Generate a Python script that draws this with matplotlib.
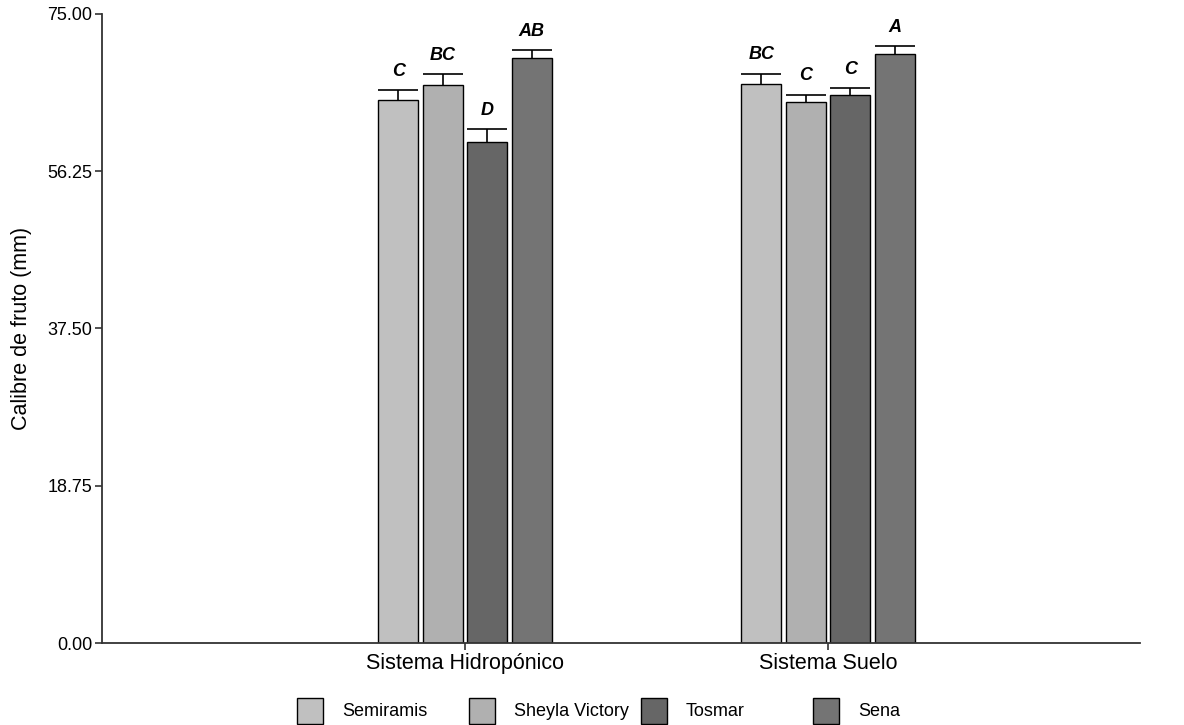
import matplotlib
matplotlib.use("Agg")

import numpy as np
import matplotlib.pyplot as plt
from matplotlib.patches import Rectangle

plt.rcParams["font.family"] = ["Liberation Sans", "DejaVu Sans"]

# Data
systems = ["Sistema Hidropónico", "Sistema Suelo"]
varieties = ["Semiramis", "Sheyla Victory", "Tosmar", "Sena"]
means = {
    "Semiramis":      [64.8, 66.7],
    "Sheyla Victory": [66.5, 64.5],
    "Tosmar":         [59.7, 65.3],
    "Sena":           [69.8, 70.2],
}
errors = {
    "Semiramis":      [1.1, 1.2],
    "Sheyla Victory": [1.3, 0.9],
    "Tosmar":         [1.55, 0.9],
    "Sena":           [0.9, 0.95],
}
letters = {
    "Semiramis":      ["C", "BC"],
    "Sheyla Victory": ["BC", "C"],
    "Tosmar":         ["D", "C"],
    "Sena":           ["AB", "A"],
}
colors = ["#c0c0c0", "#b0b0b0", "#666666", "#747474"]
yticks = [0.0, 18.75, 37.5, 56.25, 75.0]

fig = plt.figure(figsize=(11.84, 7.25), dpi=100)
ax = fig.add_axes([0.0861, 0.1131, 0.877, 0.8676])

x = np.arange(len(systems))
step = 0.1225
width = 0.11

for i, (var, col) in enumerate(zip(varieties, colors)):
    pos = x + (i - 1.5) * step
    m = np.array(means[var])
    e = np.array(errors[var])
    ax.bar(pos, m, width=width, color=col, edgecolor="black",
           linewidth=1.0, zorder=2)
    # upper error bar only, cap as wide as the bar
    ax.vlines(pos, m, m + e, color="black", linewidth=1.2, zorder=3)
    ax.hlines(m + e, pos - width / 2, pos + width / 2, color="black",
              linewidth=1.2, zorder=3)
    for p, top, lab in zip(pos, m + e, letters[var]):
        ax.text(p, top + 1.2, lab, ha="center", va="bottom", fontsize=13,
                fontweight="bold", fontstyle="italic")

ax.set_xlim(-1.0, 1.86)
ax.set_ylim(0, 75)
ax.set_xticks(x)
ax.set_xticklabels(systems, fontsize=15.5)
ax.set_yticks(yticks)
ax.set_yticklabels([f"{v:.2f}" for v in yticks], fontsize=13)
ax.set_ylabel("Calibre de fruto (mm)", fontsize=15.5, labelpad=11)

for side in ["top", "right"]:
    ax.spines[side].set_visible(False)
for side in ["left", "bottom"]:
    ax.spines[side].set_color("#333333")
    ax.spines[side].set_linewidth(1.3)
ax.tick_params(axis="both", direction="out", length=5, width=1.2,
               color="#333333", pad=2)

# legend row along the bottom, evenly spaced entries
leg_x0, leg_dx, leg_y = 297 / 1184, 172 / 1184, 1 - 711 / 725
box_w, box_h = 26 / 1184, 26 / 725
for i, (var, col) in enumerate(zip(varieties, colors)):
    lx = leg_x0 + i * leg_dx
    fig.patches.append(Rectangle((lx, leg_y - box_h / 2), box_w, box_h,
                                 transform=fig.transFigure, facecolor=col,
                                 edgecolor="black", linewidth=1.0))
    fig.text(lx + box_w + 19 / 1184, leg_y, var, ha="left", va="center",
             fontsize=13)

fig.savefig("out.png", dpi=100)
plt.close(fig)
